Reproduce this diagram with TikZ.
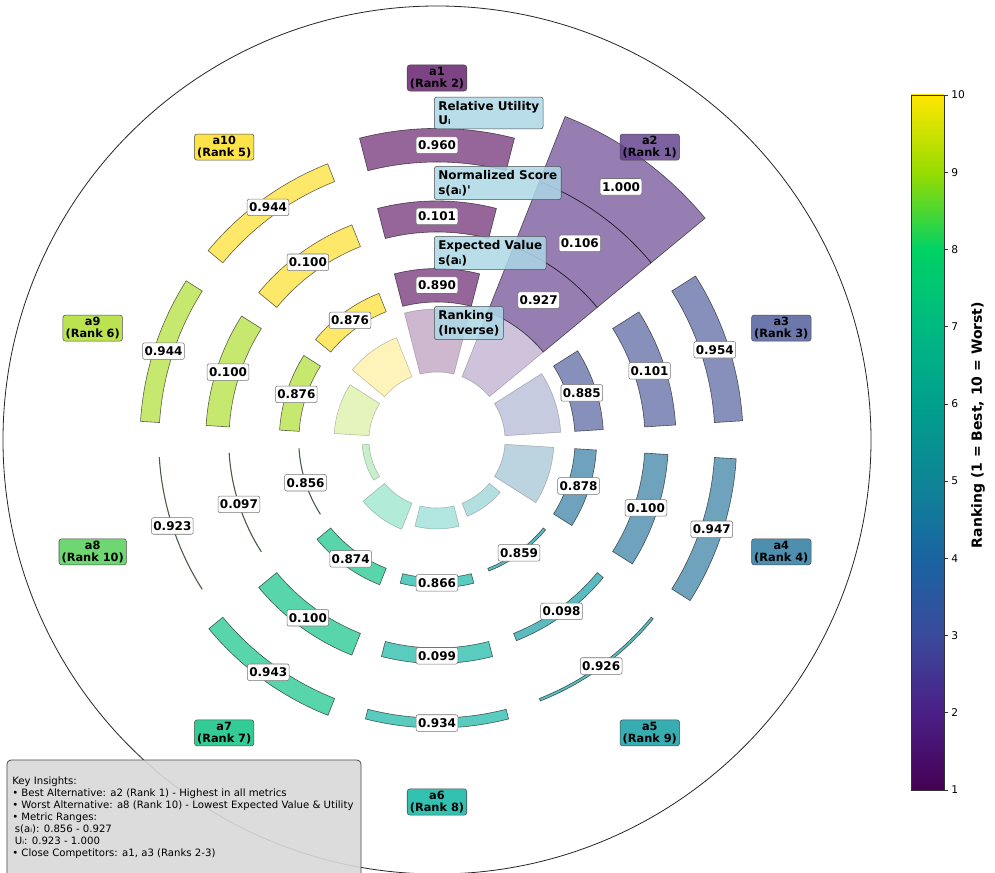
\documentclass[tikz,border=0pt]{standalone}
\usepackage{fontspec}
\setmainfont{DejaVu Sans}[Ligatures=TeXOff]
\usetikzlibrary{backgrounds}

\definecolor{alt1}{HTML}{5E1566}
\definecolor{alt2}{HTML}{5E3A8A}
\definecolor{alt3}{HTML}{485597}
\definecolor{alt4}{HTML}{22739B}
\definecolor{alt5}{HTML}{05989E}
\definecolor{alt6}{HTML}{00B29E}
\definecolor{alt7}{HTML}{00C07E}
\definecolor{alt8}{HTML}{4ACD4F}
\definecolor{alt9}{HTML}{AADC23}
\definecolor{alt10}{HTML}{FCDD1A}
\definecolor{ringblue}{HTML}{ADD8E6}
\definecolor{keygray}{HTML}{D9D9D9}
\definecolor{cb1}{HTML}{440154}
\definecolor{cb2}{HTML}{4B1F86}
\definecolor{cb3}{HTML}{3A4A9A}
\definecolor{cb4}{HTML}{1A64A2}
\definecolor{cb5}{HTML}{0E8596}
\definecolor{cb6}{HTML}{00A08E}
\definecolor{cb7}{HTML}{00B981}
\definecolor{cb8}{HTML}{00D264}
\definecolor{cb9}{HTML}{98DC00}
\definecolor{cb10}{HTML}{FFE600}

\pgfdeclareverticalshading{rankshade}{100bp}{color(0bp)=(cb1); color(25bp)=(cb1);
  color(30.56bp)=(cb2); color(36.11bp)=(cb3); color(41.67bp)=(cb4); color(47.22bp)=(cb5);
  color(52.78bp)=(cb6); color(58.33bp)=(cb7); color(63.89bp)=(cb8); color(69.44bp)=(cb9);
  color(75bp)=(cb10); color(100bp)=(cb10)}

% wedge: angle, inner radius, height, style
\newcommand\ringbar[4]{%
  \pgfmathsetmacro\barA{#1-14.4}\pgfmathsetmacro\barB{#1+14.4}\pgfmathsetmacro\barR{#2+#3}%
  \draw[#4] (\barA:#2) arc[start angle=\barA, end angle=\barB, radius=#2] -- (\barB:\barR)
    arc[start angle=\barB, end angle=\barA, radius=\barR] -- cycle;}

\begin{document}
\begin{tikzpicture}[x=0.75pt,y=0.75pt,
  rankbar/.style={fill opacity=0.3, draw=black, draw opacity=0.25, line width=0.4pt},
  metricbar/.style={fill opacity=0.65, draw=black, draw opacity=0.6, line width=0.45pt},
  valbox/.style={draw=black!55, fill=white, rounded corners=1.5pt, inner xsep=1.4pt, inner ysep=2.8pt,
    font=\bfseries\fontsize{9}{10}\selectfont},
  altbox/.style={draw=black!70, fill opacity=0.8, text opacity=1, rounded corners=2pt, align=center,
    inner xsep=2pt, inner ysep=1.6pt, font=\bfseries\fontsize{8.5}{9}\selectfont},
  ringlbl/.style={anchor=west, draw=black!70, fill=ringblue, fill opacity=0.85, text opacity=1,
    rounded corners=2pt, align=left, inner sep=3pt, font=\bfseries\fontsize{9}{11}\selectfont}]
\useasboundingbox (-437,-432) rectangle (558,440);
\fill[white] (-437,-432) rectangle (558,440);
\draw[black!85, line width=0.6pt] (0,0) circle[radius=434];

\foreach \i/\rk/\ev/\ns/\ut in {1/2/0.890/0.101/0.960, 2/1/0.927/0.106/1.000, 3/3/0.885/0.101/0.954,
  4/4/0.878/0.100/0.947, 5/9/0.859/0.098/0.926, 6/8/0.866/0.099/0.934, 7/7/0.874/0.100/0.943,
  8/10/0.856/0.097/0.923, 9/6/0.876/0.100/0.944, 10/5/0.876/0.100/0.944}{
  \pgfmathsetmacro\ang{90-36*(\i-1)}
  \pgfmathsetmacro\hr{7*(11-\rk)}
  \pgfmathsetmacro\he{max(70*(\ev-0.856)/0.071,0.5)}
  \pgfmathsetmacro\hn{max(70*(\ns-0.097)/0.009,0.5)}
  \pgfmathsetmacro\hu{max(70*(\ut-0.923)/0.077,0.5)}
  \ringbar{\ang}{68}{\hr}{rankbar, fill=alt\i}
  \ringbar{\ang}{138}{\he}{metricbar, fill=alt\i}
  \ringbar{\ang}{208}{\hn}{metricbar, fill=alt\i}
  \ringbar{\ang}{278}{\hu}{metricbar, fill=alt\i}
  \pgfmathsetmacro\re{138+\he/2}
  \pgfmathsetmacro\rn{208+\hn/2}
  \pgfmathsetmacro\ru{278+\hu/2}
  \node[valbox] (ev\i) at (\ang:\re) {\ev};
  \node[valbox] (ns\i) at (\ang:\rn) {\ns};
  \node[valbox] (ut\i) at (\ang:\ru) {\ut};
  \node[altbox, fill=alt\i] (alt\i) at (\ang:362) {a\i\\(Rank \rk)};
}

\node[ringlbl] (lblut) at (-3,327) {Relative Utility\\Uᵢ};
\node[ringlbl] (lblns) at (-3,257) {Normalized Score\\s(aᵢ)'};
\node[ringlbl] (lblev) at (-3,187) {Expected Value\\s(aᵢ)};
\node[ringlbl] (lblrk) at (-3,117) {Ranking\\(Inverse)};

% colour bar
\shade[shading=rankshade] (474,-350) rectangle (507,345);
\draw[black!80, line width=0.5pt] (474,-350) rectangle (507,345);
\foreach \v in {1,...,10}{
  \pgfmathsetmacro\ty{-350+(\v-1)*695/9}
  \draw[black!80, line width=0.5pt] (507,\ty) -- (511,\ty);
  \node[anchor=west, inner sep=0pt, font=\fontsize{8}{9}\selectfont] (tick\v) at (514,\ty) {\v};
}
\node[rotate=90, font=\bfseries\fontsize{10.5}{12}\selectfont] (cblabel) at (541,15)
  {Ranking (1 = Best, 10 = Worst)};

% key insights
\draw[black!70, fill=keygray, fill opacity=0.9, rounded corners=3pt, line width=0.6pt]
  (-430,-440) rectangle (-76,-320);
\node[anchor=north west, align=left, inner sep=0pt, font=\fontsize{7.6}{9}\selectfont] (insights)
  at (-425,-337) {Key Insights:\\
  • Best Alternative: a2 (Rank 1) - Highest in all metrics\\
  • Worst Alternative: a8 (Rank 10) - Lowest Expected Value \& Utility\\
  • Metric Ranges:\\
  \hspace*{2pt}s(aᵢ): 0.856 - 0.927\\
  \hspace*{2pt}Uᵢ: 0.923 - 1.000\\
  • Close Competitors: a1, a3 (Ranks 2-3)};
\end{tikzpicture}
\end{document}
